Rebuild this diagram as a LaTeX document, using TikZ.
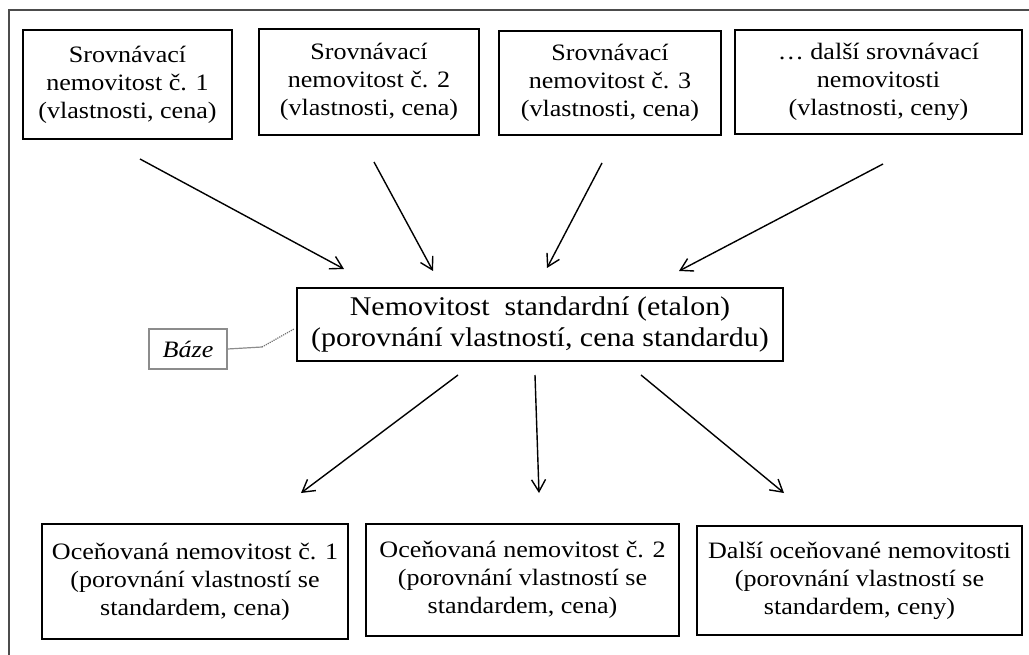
\documentclass[tikz,border=0pt]{standalone}
\usepackage{fontspec}
\setmainfont[FakeStretch=1.11]{Liberation Serif}
\usetikzlibrary{arrows.meta}

\tikzset{
	box/.style = {draw, line width=1.3pt, align=center, inner sep=0pt,
		font=\fontsize{23.5}{28}\selectfont},
	arr/.style = {line width=1.4pt,
		-{Straight Barb[length=12pt,width=14pt,line width=1.4pt]}},
}

\begin{document}
\begin{tikzpicture}[x=1pt, y=-1pt]
		\clip (0,0) rectangle (1029,655);
		\draw[line width=1.5pt, black!70] (9,10) rectangle (1045,670);
		% srovnavaci nemovitosti
		\node[box, minimum width=209pt, minimum height=109pt] (s1) at (127.5,84.5)
			{Srovnávací\\nemovitost č. 1\\(vlastnosti, cena)};
		\node[box, minimum width=220pt, minimum height=106pt] (s2) at (369,82)
			{Srovnávací\\nemovitost č. 2\\(vlastnosti, cena)};
		\node[box, minimum width=222pt, minimum height=104pt] (s3) at (610,83)
			{Srovnávací\\nemovitost č. 3\\(vlastnosti, cena)};
		\node[box, minimum width=287pt, minimum height=104pt] (s4) at (878.5,82)
			{\dots\ další srovnávací\\nemovitosti\\(vlastnosti, ceny)};
		% standard
		\node[box, minimum width=486pt, minimum height=73pt,
			font=\fontsize{27}{31}\selectfont] (std) at (540,324.5)
			{Nemovitost~ standardní (etalon)\\(porovnání vlastností, cena standardu)};
		\node[box, draw=black!45, minimum width=78pt, minimum height=40pt] (baze) at (188,349)
			{\itshape Báze};
		% ocenovane nemovitosti
		\node[box, minimum width=306pt, minimum height=115pt] (o1) at (195,581.5)
			{Oceňovaná nemovitost č. 1\\(porovnání vlastností se\\standardem, cena)};
		\node[box, minimum width=313pt, minimum height=112pt] (o2) at (522.5,580)
			{Oceňovaná nemovitost č. 2\\(porovnání vlastností se\\standardem, cena)};
		\node[box, minimum width=325pt, minimum height=109pt] (o3) at (859.5,580.5)
			{Další oceňované nemovitosti\\(porovnání vlastností se\\standardem, ceny)};

		\coordinate (k1) at (262,347);
		\coordinate (k2) at (294,329);
		\draw[line width=1.2pt, black!45] (baze.east) -- (k1);
		\draw[line width=1.2pt, black!55, densely dotted] (k1) -- (k2);

		\coordinate (a1) at (140,159);  \coordinate (a1e) at (344,269);
		\coordinate (a2) at (374,162);  \coordinate (a2e) at (433,271);
		\coordinate (a3) at (602,163);  \coordinate (a3e) at (547,268);
		\coordinate (a4) at (883,164);  \coordinate (a4e) at (679,271);
		\coordinate (b1) at (458,375);  \coordinate (b1e) at (301,493);
		\coordinate (b2) at (535,375);  \coordinate (b2e) at (539,493);
		\coordinate (b3) at (641,375);  \coordinate (b3e) at (784,493);

		\foreach \p in {a1,a2,a3,a4,b1,b2,b3}
			\draw[arr] (\p) -- (\p e);
	\end{tikzpicture}
\end{document}
